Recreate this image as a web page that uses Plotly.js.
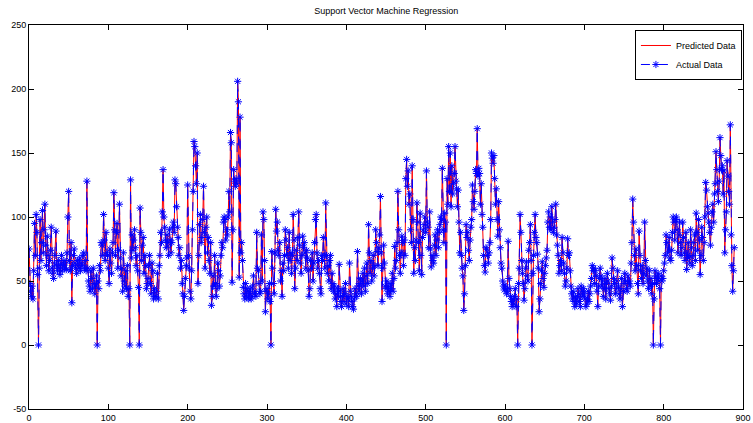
<!DOCTYPE html>
<html>
<head>
<meta charset="utf-8">
<script src="https://cdn.plot.ly/plotly-3.0.1.min.js"></script>
<style>html,body{margin:0;padding:0;background:#fff;}#chart{width:753px;height:423px;}</style>
</head>
<body>
<div id="chart"></div>
<script>
const chartTitle = "Support Vector Machine Regression";
const seriesNames = ["Predicted Data", "Actual Data"];
const xTicks = [0, 100, 200, 300, 400, 500, 600, 700, 800, 900];
const yTicks = [-50, 0, 50, 100, 150, 200, 250];

const actual = [
75,48,42,38,46,36,58,95,70,102,
88,55,0,60,98,66,80,105,72,90,
110,78,62,85,70,58,66,74,92,60,
56,52,64,70,89,62,58,66,60,55,
63,70,58,62,66,60,64,59,72,100,
120,66,58,80,33,62,70,75,64,60,
56,66,62,60,68,58,64,62,70,72,
60,66,58,128,60,50,46,42,58,52,
44,60,48,40,46,54,0,50,44,62,
58,80,78,70,102,82,66,88,72,70,
60,48,75,64,56,72,80,119,90,70,
88,95,60,74,110,68,54,60,42,72,
50,46,58,44,62,38,44,0,129,68,
86,74,82,90,76,62,70,58,45,0,
107,88,66,78,84,56,70,62,44,48,
52,62,70,48,40,64,58,36,44,38,
38,42,56,36,62,70,88,80,104,137,
100,92,82,76,86,80,70,90,82,72,
80,92,96,88,129,126,108,92,84,70,
76,60,66,48,40,27,38,52,62,68,
125,70,60,42,36,58,90,120,159,155,
140,126,150,48,70,94,102,80,84,98,
124,88,60,92,100,72,84,66,56,80,
31,38,54,46,70,48,38,44,64,58,
46,54,70,80,76,96,100,98,82,90,
86,100,120,104,166,158,49,90,137,128,
124,130,126,206,190,53,178,72,80,66,
45,40,36,48,38,44,42,36,40,44,
36,38,46,54,40,42,38,88,60,58,
48,40,42,86,50,104,98,66,26,42,
44,36,40,48,34,0,73,60,48,40,
72,106,89,96,74,70,80,50,58,38,
64,58,70,90,82,70,76,60,88,66,
72,56,70,102,82,44,60,74,66,84,
104,78,64,56,70,85,76,80,72,60,
74,68,58,38,44,66,60,72,50,64,
80,98,102,72,60,66,56,44,40,70,
66,84,70,60,111,70,56,62,50,66,
70,44,56,48,42,46,36,40,30,44,
38,63,42,34,30,38,44,34,40,48,
32,38,36,30,64,42,38,34,30,28,
36,44,40,38,73,46,42,48,52,40,
50,56,46,60,42,54,64,48,94,72,
56,66,50,60,70,54,62,90,80,73,
62,76,86,116,72,34,60,78,64,46,
44,50,40,46,42,38,48,44,56,42,
52,77,60,66,80,120,90,70,56,72,
85,80,62,82,70,130,145,124,136,110,
118,90,80,140,98,56,76,66,82,111,
96,80,58,103,70,55,84,90,94,100,
88,136,96,92,76,104,75,61,70,66,
64,78,86,70,82,90,76,88,94,100,
98,138,90,80,103,96,0,130,110,155,
120,150,108,140,118,126,134,155,128,122,
108,121,96,72,88,70,60,54,27,40,
62,94,84,88,74,66,82,92,98,125,
112,106,120,137,134,169,132,138,134,110,
126,102,92,70,62,57,76,75,70,64,
72,80,98,150,146,142,148,130,110,122,
98,85,112,90,76,64,60,50,46,43,
47,44,40,42,81,52,44,38,34,30,
36,32,38,44,30,36,0,48,60,102,
88,66,56,48,35,44,60,65,54,50,
74,80,94,66,0,56,70,88,102,84,
80,71,60,26,36,48,58,65,52,45,
56,62,68,74,96,104,92,100,90,108,
96,88,92,98,110,86,78,70,56,62,
66,58,84,72,64,56,46,50,60,83,
70,72,58,46,40,36,42,34,30,38,
32,36,44,40,34,30,46,42,38,44,
40,36,30,32,36,42,34,40,46,52,
62,58,60,48,58,54,42,30,46,52,
60,54,46,50,38,44,52,36,48,56,
50,44,40,35,46,68,60,52,48,40,
44,50,58,46,40,36,44,52,30,42,
48,56,50,44,42,54,48,50,46,64,
80,114,96,70,58,75,62,48,40,89,
70,58,52,62,48,56,96,66,54,60,
50,44,58,46,52,40,48,0,36,58,
54,48,52,56,50,44,0,54,50,52,
58,64,70,86,80,72,75,84,68,66,
74,88,100,96,82,98,100,90,72,86,
96,80,70,76,96,84,72,66,88,59,
70,80,68,64,90,76,62,70,80,86,
66,103,88,74,98,82,55,70,92,84,
66,80,100,127,121,108,103,96,88,78,
92,104,110,96,118,126,151,137,120,112,
128,162,148,137,140,118,136,72,90,104,
144,132,120,110,172,86,62,42,58,76
];
// The regression output overlays the actual data almost exactly in the picture
const predicted = actual.slice();
const sampleIndex = actual.map((_, i) => i);

const font = {family: "Arial, 'Liberation Sans', sans-serif", size: 9, color: "#000"};

const traces = [
  {
    x: sampleIndex, y: predicted, name: seriesNames[0],
    type: "scatter", mode: "lines",
    line: {color: "#ff0000", width: 1}
  },
  {
    x: sampleIndex, y: actual, name: seriesNames[1],
    type: "scatter", mode: "lines+markers",
    line: {color: "#0000ff", width: 1, dash: "dash"},
    marker: {symbol: "asterisk-open", size: 6, color: "#0000ff", line: {color: "#0000ff", width: 1}}
  }
];

const axisCommon = {
  showline: true, linecolor: "#000", linewidth: 1, mirror: "ticks",
  ticks: "inside", ticklen: 5, tickcolor: "#000",
  showgrid: false, zeroline: false, tickfont: font,
  ticklabeloverflow: "allow"
};

const layout = {
  width: 753, height: 423,
  margin: {l: 29, r: 10, t: 25, b: 14},
  paper_bgcolor: "#fff", plot_bgcolor: "#fff",
  font: font,
  title: {text: chartTitle, font: {family: font.family, size: 9, color: "#000"}, x: 0.513, xanchor: "center", y: 0.975, yanchor: "middle"},
  xaxis: Object.assign({}, axisCommon, {range: [0, 900], tickvals: xTicks, ticktext: xTicks.map(String)}),
  yaxis: Object.assign({}, axisCommon, {range: [-50, 250], tickvals: yTicks, ticktext: yTicks.map(String)}),
  showlegend: true,
  legend: {
    x: 0.9985, xanchor: "right", y: 0.987, yanchor: "top",
    bordercolor: "#000", borderwidth: 1, bgcolor: "#fff",
    font: {family: font.family, size: 9, color: "#000"},
    itemwidth: 30, tracegroupgap: 0
  }
};

Plotly.newPlot("chart", traces, layout, {staticPlot: true, displayModeBar: false});
</script>
</body>
</html>
